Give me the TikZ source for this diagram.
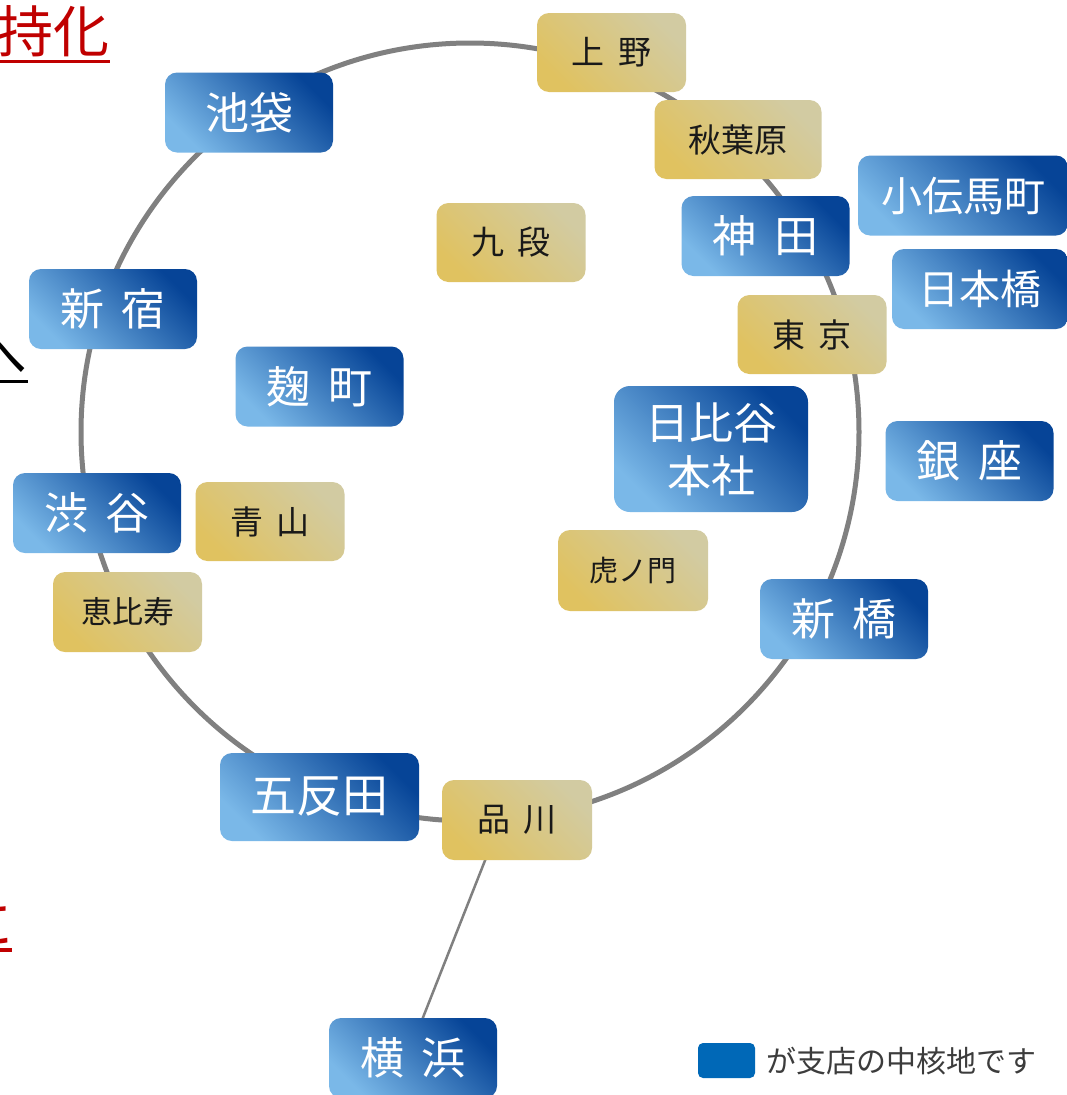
\documentclass[tikz,border=0pt]{standalone}
\usepackage{fontspec}
\newfontfamily\jp{Noto Sans CJK JP}
\definecolor{blight}{HTML}{7AB8E8}
\definecolor{bdark}{HTML}{064497}
\definecolor{glight}{HTML}{D2CBA2}
\definecolor{gdark}{HTML}{E0C260}
\definecolor{ringgray}{HTML}{808080}
\definecolor{legblue}{HTML}{0068B7}
\definecolor{legtext}{HTML}{3C3C3C}
\definecolor{hired}{HTML}{C00000}
\newcommand\gapsp{\hspace{0.4em}}
\newcommand\fs[1]{\fontsize{#1}{#1}\selectfont}
\tikzset{
  bluebox/.style={rounded corners=12, minimum width=168, minimum height=80, inner sep=0,
    top color=bdark, bottom color=blight, shading angle=-45,
    text=white, font=\jp\fs{44}, align=center},
  goldbox/.style={rounded corners=12, minimum width=149, minimum height=79, inner sep=0,
    top color=glight, bottom color=gdark, shading angle=-45,
    text=black!90, font=\jp\fs{33}, align=center},
  ring/.style={draw=ringgray, line width=5},
  link/.style={draw=ringgray, line width=2.5},
  cuttext/.style={inner sep=0, font=\jp\fs{56}},
}
\begin{document}
\begin{tikzpicture}[x=1pt,y=-1pt]
\clip (0,0) rectangle (1067,1095);
\fill[white] (0,0) rectangle (1067,1095);

% cut-off texts at the left edge
\node[cuttext, text=hired, anchor=east] (tx1) at (110,31) {持化};
\draw[hired, line width=3] (-10,61) -- (110,61);
\node[cuttext, text=black, anchor=east, font=\jp\fs{54}] (tx2) at (28,357) {へ};
\draw[black, line width=3] (-10,381) -- (28,381);
\node[cuttext, text=hired, anchor=base east] (tx3) at (14,944) {に};
\draw[hired, line width=3.5] (-10,950) -- (12,950);

% ring and link
\coordinate (ringc) at (470,432);
\draw[ring] (ringc) circle[radius=389];
\coordinate (shinaA) at (501,820);
\coordinate (yokoA) at (407,1058);
\draw[link] (shinaA) -- (yokoA);

% nodes
\node[goldbox] (ueno) at (611.5,52.5) {上\gapsp 野};
\node[bluebox] (ikebukuro) at (249,112.5) {池袋};
\node[goldbox, minimum width=167] (akihabara) at (738,139.5) {秋葉原};
\node[bluebox, minimum width=210, font=\jp\fs{41}] (kodenmacho) at (963,195.5) {小伝馬町};
\node[bluebox] (kanda) at (765.5,236) {神\gapsp 田};
\node[goldbox] (kudan) at (511,242.5) {九\gapsp 段};
\node[bluebox, minimum width=176, font=\jp\fs{41}] (nihonbashi) at (980,289) {日本橋};
\node[bluebox] (shinjuku) at (113,309) {新\gapsp 宿};
\node[goldbox] (tokyo) at (812,334.5) {東\gapsp 京};
\node[bluebox] (kojimachi) at (319.5,386.5) {麹\gapsp 町};
\node[bluebox, minimum width=194, minimum height=126, rounded corners=16] (hibiya) at (711,449) {日比谷\\[9pt]本社};
\node[bluebox] (ginza) at (969.5,461) {銀\gapsp 座};
\node[bluebox] (shibuya) at (97,513) {渋\gapsp 谷};
\node[goldbox] (aoyama) at (270,521.5) {青\gapsp 山};
\node[goldbox, font=\jp\fs{29}, minimum width=150, minimum height=81] (toranomon) at (633,570.5) {虎ノ門};
\node[goldbox, font=\jp\fs{31}, minimum height=80] (ebisu) at (127.5,612) {恵比寿};
\node[bluebox] (shinbashi) at (844,619) {新\gapsp 橋};
\node[bluebox, minimum width=199, minimum height=88, font=\jp\fs{46}] (gotanda) at (319.5,797) {五反田};
\node[goldbox, minimum width=150, minimum height=80] (shinagawa) at (517,820) {品\gapsp 川};
\node[bluebox] (yokohama) at (413,1058) {横\gapsp 浜};

% legend
\node[rounded corners=5, fill=legblue, minimum width=57, minimum height=35, inner sep=0] (legbox) at (726.5,1060.5) {};
\node[anchor=west, inner sep=0, text=legtext, font=\jp\fs{30}] (legtxt) at (766,1061) {が支店の中核地です};
\end{tikzpicture}
\end{document}
